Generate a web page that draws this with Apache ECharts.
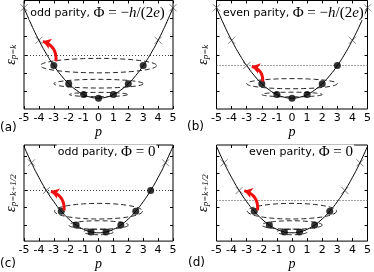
<!DOCTYPE html>
<html><head><meta charset="utf-8">
<script src="https://cdn.jsdelivr.net/npm/echarts@6/dist/echarts.min.js"></script>
<style>html,body{margin:0;padding:0;background:#fff}#c{width:374px;height:272px}</style>
</head><body><div id="c"></div>
<script>
// ---- data ----
const pTicks = [-5,-4,-3,-2,-1,0,1,2,3,4,5];
const curveP = [-5,-4.5,-4,-3.5,-3,-2.5,-2,-1.5,-1,-0.5,0,0.5,1,1.5,2,2.5,3,3.5,4,4.5,5];
const curveE = [25,20.25,16,12.25,9,6.25,4,2.25,1,0.25,0,0.25,1,2.25,4,6.25,9,12.25,16,20.25,25];

const panelLetters = ['(a)','(b)','(c)','(d)'];
const parities = ['odd parity, ','even parity, ','odd parity, ','even parity, '];
const yNameSubs = ['p=k','p=k','p=k+1/2','p=k+1/2'];
const yMinAB = -3, yMaxAB = 27, yMinCD = -2.4, yMaxCD = 25.4;
const yTicksAB = [2,7,12,17,22];
const yTicksCD = [2.25,7.25,12.25,17.25,22.25];

// panel (a)
const dotsA_p = [-3,-2,-1,0,1,2,3];
const dotsA_e = [9,4,1,0,1,4,9];
const crossA_p = [-5,-4,4,5];
const crossA_e = [25,16,16,25];
const ringsA_e = [9,4,1];
const ringsA_rx = [3.9,3.0,1.95];
const ringsA_ry = [2.0,1.2,0.6];
const levelA = 12;
const arrowA_from = [-2.86,10.2], arrowA_to = [-3.73,15.7];
// panel (b)
const dotsB_p = [-2,-1,0,1,2,3];
const dotsB_e = [4,1,0,1,4,9];
const crossB_p = [-5,-4,-3,4,5];
const crossB_e = [25,16,9,16,25];
const ringsB_e = [4,1];
const ringsB_rx = [3.0,2.0];
const ringsB_ry = [1.4,0.65];
const levelB = 9;
const arrowB_from = [-1.94,4.6], arrowB_to = [-2.66,8.8];
// panel (c)
const dotsC_p = [-2.5,-1.5,-0.5,0.5,1.5,2.5,3.5];
const dotsC_e = [6.25,2.25,0.25,0.25,2.25,6.25,12.25];
const crossC_p = [-4.5,-3.5,4.5];
const crossC_e = [20.25,12.25,20.25];
const ringsC_e = [6.25,2.25,0.25];
const ringsC_rx = [2.95,2.0,1.0];
const ringsC_ry = [2.26,1.23,0.82];
const levelC = 12.25;
const arrowC_from = [-2.31,6.5], arrowC_to = [-3.19,12.0];
// panel (d)
const dotsD_p = [-2.5,-1.5,-0.5,0.5,1.5,2.5];
const dotsD_e = [6.25,2.25,0.25,0.25,2.25,6.25];
const crossD_p = [-4.5,-3.5,3.5,4.5];
const crossD_e = [20.25,12.25,12.25,20.25];
const ringsD_e = [6.25,2.25,0.25];
const ringsD_rx = [2.95,2.0,1.0];
const ringsD_ry = [2.26,1.23,0.82];
const levelD = 9.4;
const arrowD_from = [-2.28,6.5], arrowD_to = [-3.16,12.2];

// ---- build chart ----
const zip = (a,b) => a.map((v,i)=>[v,b[i]]);
const panels = [
  {dots:zip(dotsA_p,dotsA_e), cross:zip(crossA_p,crossA_e), rings:ringsA_e.map((e,i)=>[0,e,ringsA_rx[i],ringsA_ry[i]]), level:levelA, arrow:[arrowA_from,arrowA_to], flux:'A'},
  {dots:zip(dotsB_p,dotsB_e), cross:zip(crossB_p,crossB_e), rings:ringsB_e.map((e,i)=>[0,e,ringsB_rx[i],ringsB_ry[i]]), level:levelB, arrow:[arrowB_from,arrowB_to], flux:'A'},
  {dots:zip(dotsC_p,dotsC_e), cross:zip(crossC_p,crossC_e), rings:ringsC_e.map((e,i)=>[0,e,ringsC_rx[i],ringsC_ry[i]]), level:levelC, arrow:[arrowC_from,arrowC_to], flux:'B'},
  {dots:zip(dotsD_p,dotsD_e), cross:zip(crossD_p,crossD_e), rings:ringsD_e.map((e,i)=>[0,e,ringsD_rx[i],ringsD_ry[i]]), level:levelD, arrow:[arrowD_from,arrowD_to], flux:'B'}
];
const grids = [
  {left:20.5, top:0.5, width:152.5, height:108.5},
  {left:216.5, top:0.5, width:152.5, height:108.5},
  {left:20.5, top:145, width:152.5, height:102},
  {left:216.5, top:145, width:152.5, height:102}
];
const serif = 'Liberation Serif';
const sans = 'DejaVu Sans';
const xAxes = [], yAxes = [], series = [];
panels.forEach((pn, i) => {
  const yMin = i < 2 ? yMinAB : yMinCD;
  const yMax = i < 2 ? yMaxAB : yMaxCD;
  const yT = i < 2 ? yTicksAB : yTicksCD;
  const tick = {inside:true, length:3, lineStyle:{color:'#000', width:1}};
  const noLine = {show:false, onZero:false};
  xAxes.push({gridIndex:i, type:'value', min:-5, max:5, interval:1, position:'bottom',
    axisLine:noLine, splitLine:{show:false}, axisTick:tick,
    axisLabel:{color:'#000', fontSize:11, fontFamily:sans, margin:4, showMinLabel:true, showMaxLabel:true},
    name:'p', nameLocation:'middle', nameGap:13,
    nameTextStyle:{fontFamily:serif, fontStyle:'italic', fontSize:14, color:'#000'}});
  xAxes.push({gridIndex:i, type:'value', min:-5, max:5, interval:1, position:'top',
    axisLine:noLine, splitLine:{show:false}, axisTick:tick, axisLabel:{show:false}});
  yAxes.push({gridIndex:i, type:'value', min:yMin, max:yMax, position:'left',
    axisLine:noLine, splitLine:{show:false},
    axisTick:Object.assign({customValues:yT}, tick), axisLabel:{show:false},
    name:'{e|ε}{s|' + yNameSubs[i] + '}', nameLocation:'middle', nameGap:6,
    nameTextStyle:{color:'#000', rich:{
      e:{fontFamily:serif, fontStyle:'italic', fontSize:14, lineHeight:14, verticalAlign:'top', color:'#000'},
      s:{fontFamily:serif, fontStyle:'italic', fontSize:9, lineHeight:9, padding:[8,0,0,0], verticalAlign:'bottom', color:'#000'}
    }}});
  yAxes.push({gridIndex:i, type:'value', min:yMin, max:yMax, position:'right',
    axisLine:noLine, splitLine:{show:false},
    axisTick:Object.assign({customValues:yT}, tick), axisLabel:{show:false}});
  const xi = 2*i, yi = 2*i;
  series.push({type:'line', xAxisIndex:xi, yAxisIndex:yi, data:zip(curveP,curveE), smooth:true,
    symbol:'none', lineStyle:{color:'#000', width:1}, z:2, clip:true,
    markLine:{silent:true, symbol:'none', label:{show:false},
      lineStyle:{color:'#444', width:1, type:[1,2]}, data:[{yAxis:pn.level}]}});
  series.push({type:'custom', xAxisIndex:xi, yAxisIndex:yi, data:pn.rings, z:3,
    renderItem:function(params, api){
      const c = api.coord([api.value(0), api.value(1)]);
      const rx = api.size([api.value(2), 0])[0];
      const ry = api.size([0, api.value(3)])[1];
      const pts = [];
      for (let k = 0; k < 72; k++) {
        const t = k / 72 * Math.PI * 2;
        pts.push([c[0] + rx * Math.cos(t), c[1] + ry * Math.sin(t)]);
      }
      return {type:'polygon', shape:{points:pts},
        style:{fill:'none', stroke:'#222', lineWidth:1, lineDash:[5,3]}};
    }});
  series.push({type:'scatter', xAxisIndex:xi, yAxisIndex:yi, data:pn.cross, z:4,
    symbol:'path://M0,0L10,10M10,0L0,10', symbolSize:7,
    itemStyle:{color:'rgba(0,0,0,0)', borderColor:'#333', borderWidth:0.8}});
  series.push({type:'scatter', xAxisIndex:xi, yAxisIndex:yi, data:pn.dots, z:5,
    symbol:'circle', symbolSize:7, itemStyle:{color:'#000'}});
  series.push({type:'lines', coordinateSystem:'cartesian2d', xAxisIndex:xi, yAxisIndex:yi, z:6,
    symbol:['none','arrow'], symbolSize:8,
    lineStyle:{color:'#ee1111', width:3, curveness:-0.4, opacity:1},
    data:[{coords:[pn.arrow[0], pn.arrow[1]]}]});
});

const titleRich = {
  s:{fontFamily:sans, fontSize:11, color:'#000'},
  u:{fontFamily:serif, fontSize:15, color:'#000'},
  i:{fontFamily:serif, fontStyle:'italic', fontSize:15, color:'#000'}
};
const fluxA = '{u|Φ = −}{i|h}{u|/(2}{i|e}{u|)}';
const fluxB = '{u|Φ = 0}';
const titlePos = [[29.3,12.7],[222,12.7],[56.7,152],[248,152]];
const letterPos = [[0,128],[187,127],[0,264],[188,263]];
const graphic = [];
panels.forEach((pn,i)=>{
  graphic.push({type:'text', x:titlePos[i][0], y:titlePos[i][1], z:100,
    style:{text:'{s|' + parities[i] + '}' + (pn.flux==='A'?fluxA:fluxB), rich:titleRich,
      verticalAlign:'middle', align:'left', backgroundColor:'#fff', padding:[0,1,0,1]}});
  graphic.push({type:'text', x:letterPos[i][0], y:letterPos[i][1], z:100,
    style:{text:panelLetters[i], fontFamily:sans, fontSize:12, fill:'#000', verticalAlign:'middle', align:'left'}});
});

const chart = echarts.init(document.getElementById('c'), null, {renderer:'canvas'});
chart.setOption({
  animation:false,
  backgroundColor:'#fff',
  grid: grids.map(g => Object.assign({show:true, borderColor:'#000', borderWidth:1, backgroundColor:'transparent', containLabel:false}, g)),
  xAxis:xAxes, yAxis:yAxes, series:series, graphic:graphic
});
</script></body></html>
